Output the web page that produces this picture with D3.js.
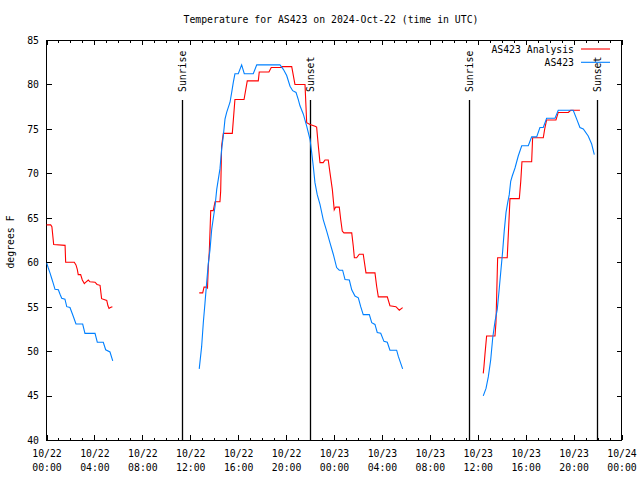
<!DOCTYPE html>
<html><head><meta charset="utf-8">
<script src="https://cdn.jsdelivr.net/npm/d3@7"></script>
<style>
body{margin:0;background:#fff;}
svg{display:block;}
text{font-family:"DejaVu Sans Mono","Liberation Mono",monospace;font-size:9.8px;fill:#000;}
</style></head>
<body><svg id="c" width="640" height="480"></svg>
<script>
// ---- data (hours since 2024-10-22 00:00 UTC, degrees F); null = gap ----
const analysisHours = [0,0.35,0.45,0.6,1.55,1.6,2.32,2.46,2.57,2.65,2.85,2.99,3.16,3.24,3.49,3.63,4.05,4.22,4.47,4.6,5.03,5.13,5.22,5.33,5.5,
  null,
  12.75,13.04,13.15,13.37,13.44,13.51,13.59,13.71,13.92,14.07,14.48,14.54,14.62,14.76,15.51,15.73,16.49,16.76,17.68,17.76,18.57,18.76,19.63,19.66,20.47,20.74,21.58,21.72,22.0,22.42,22.55,22.69,22.83,23.1,23.25,23.52,23.66,23.86,24.02,24.14,24.44,24.56,24.69,24.83,25.48,25.61,25.7,25.89,26.11,26.44,26.67,27.42,27.56,27.7,28.45,28.67,29.17,29.45,29.73,
  null,
  36.46,36.52,36.6,36.74,37.44,37.52,37.58,37.66,38.46,38.58,38.69,39.47,39.59,39.69,40.5,40.58,41.47,41.59,41.75,42.53,42.72,43.56,43.76,44.53];
const analysisTemps = [64.2,64.2,64.0,62.0,61.9,60.0,60.0,59.7,59.2,58.6,58.6,58.0,57.6,57.7,58.0,57.8,57.75,57.5,57.4,55.9,55.7,55.1,54.8,54.9,55.0,
  null,
  56.55,56.55,57.2,57.2,57.1,59.6,61.2,65.8,65.8,66.8,66.8,68.0,73.1,74.5,74.5,78.3,78.3,80.4,80.4,81.4,81.4,81.9,81.9,82.0,82.0,80.0,80.0,75.7,75.5,75.3,75.2,73.1,71.2,71.2,71.5,71.5,70.1,68.2,65.9,66.2,66.2,64.8,63.5,63.3,63.3,61.8,60.5,60.5,60.9,60.9,58.8,58.8,57.3,56.1,56.1,55.1,55.0,54.6,54.9,
  null,
  47.5,48.3,49.6,51.7,51.7,53.2,56.2,60.5,60.5,63.9,67.15,67.15,69.1,71.3,71.3,74.0,74.0,75.0,76.0,76.0,76.85,76.85,77.1,77.1];

const stationHours = [0.02,0.15,0.29,0.43,0.57,0.71,0.99,1.13,1.27,1.54,1.69,1.96,2.1,2.24,2.46,3.02,3.21,4.05,4.24,4.74,4.94,5.3,5.53,
  null,
  12.75,12.95,13.09,13.23,13.37,13.51,13.65,13.79,14.07,14.21,14.48,14.62,14.76,14.9,15.04,15.32,15.46,15.59,15.73,16.01,16.29,16.51,17.26,17.55,19.49,19.77,20.05,20.33,20.55,20.83,21.02,21.16,21.44,21.72,22.0,22.14,22.27,22.41,22.6,22.83,23.1,23.39,23.66,23.94,24.22,24.44,24.72,24.92,25.28,25.48,25.75,26.03,26.23,26.44,26.95,27.15,27.42,27.61,27.9,28.17,28.45,28.67,29.23,29.37,29.73,
  null,
  36.46,36.69,36.88,37.08,37.25,37.44,37.63,37.8,37.94,38.08,38.21,38.36,38.5,38.63,38.75,38.88,39.11,39.38,39.67,40.22,40.5,40.92,41.19,41.47,41.75,42.45,42.72,43.97,44.26,44.53,44.81,45.22,45.51,45.73];
const stationTemps = [59.9,59.35,58.8,58.2,57.6,56.95,56.9,56.4,55.95,55.85,55.0,54.9,54.4,53.9,53.05,53.05,52.0,52.0,51.0,51.0,50.15,49.9,48.9,
  null,
  48.0,50.5,53.2,55.4,57.7,59.9,61.4,63.7,66.3,68.2,70.5,72.7,74.2,76.1,76.85,78.0,79.1,80.2,81.2,81.2,82.2,81.2,81.2,82.2,82.2,81.7,81.0,79.8,79.3,79.1,78.3,77.6,76.65,75.3,73.8,72.3,70.8,68.95,67.6,66.5,64.8,63.5,62.2,60.9,59.4,59.1,59.1,58.05,58.0,56.9,56.2,56.0,55.0,54.1,54.1,53.2,53.0,52.1,52.0,51.1,51.0,50.1,50.1,49.4,48.0,
  null,
  44.96,45.8,47.1,49.0,51.5,53.35,54.7,57.1,59.2,61.25,63.5,65.6,66.7,67.6,69.1,69.7,70.6,71.95,73.1,73.1,74.1,74.1,75.15,75.15,76.2,76.2,77.1,77.1,76.1,75.15,75.0,74.2,73.3,72.1];

const sunEventHours = [11.3, 21.98, 35.3, 45.92];
const sunEventLabels = ["Sunrise","Sunset","Sunrise","Sunset"];
const xMajorTicks = [0,4,8,12,16,20,24,28,32,36,40,44,48];
const yTicks = [40,45,50,55,60,65,70,75,80,85];
const seriesNames = ["AS423 Analysis","AS423"];
const seriesColors = ["#ff0000","#0080ff"];
const titleText = "Temperature for AS423 on 2024-Oct-22 (time in UTC)";
const yLabelText = "degrees F";

// ---- layout ----
const L = 46.5, R = 621.5, T = 40, B = 440;
const svg = d3.select("#c");
const x = d3.scaleLinear().domain([0,48]).range([L,R]);
const y = d3.scaleLinear().domain([40,85]).range([B,T]);

function pad(n){return (n<10?"0":"")+n;}
function dateLab(h){return "10/"+(22+Math.floor(h/24));}
function timeLab(h){return pad(h%24)+":00";}

// minor x ticks (hourly)
const hours = d3.range(0,49);
svg.append("g").attr("transform",`translate(0,${B})`)
  .call(d3.axisBottom(x).tickValues(hours).tickSize(-2.5).tickSizeOuter(0).tickFormat(""))
  .call(g=>g.select(".domain").remove());
svg.append("g").attr("transform",`translate(0,${T})`)
  .call(d3.axisTop(x).tickValues(hours).tickSize(-2.5).tickSizeOuter(0).tickFormat(""))
  .call(g=>g.select(".domain").remove());
// major x ticks
const xb = svg.append("g").attr("transform",`translate(0,${B})`)
  .call(d3.axisBottom(x).tickValues(xMajorTicks).tickSize(-5).tickSizeOuter(0).tickFormat(""));
xb.select(".domain").remove();
xb.selectAll(".tick").append("text")
  .attr("text-anchor","middle").attr("y",17).text(d=>dateLab(d));
xb.selectAll(".tick").append("text")
  .attr("text-anchor","middle").attr("y",31).text(d=>timeLab(d));
svg.append("g").attr("transform",`translate(0,${T})`)
  .call(d3.axisTop(x).tickValues(xMajorTicks).tickSize(-5).tickSizeOuter(0).tickFormat(""))
  .call(g=>g.select(".domain").remove());
// y ticks
const yl = svg.append("g").attr("transform",`translate(${L},0)`)
  .call(d3.axisLeft(y).tickValues(yTicks).tickSize(-5).tickSizeOuter(0).tickPadding(8).tickFormat(d3.format("d")));
yl.select(".domain").remove();
yl.selectAll("text").attr("dy","0.35em").attr("x",-7.5);
svg.append("g").attr("transform",`translate(${R},0)`)
  .call(d3.axisRight(y).tickValues(yTicks).tickSize(-5).tickSizeOuter(0).tickFormat(""))
  .call(g=>g.select(".domain").remove());
svg.selectAll(".tick line").attr("stroke","#000").attr("shape-rendering","crispEdges");
svg.selectAll("g").attr("font-size",null).attr("font-family",null);

// frame
svg.append("rect").attr("x",L).attr("y",T).attr("width",R-L).attr("height",B-T)
  .attr("fill","none").attr("stroke","#000").attr("shape-rendering","crispEdges");

// sunrise / sunset
const ev = svg.append("g");
sunEventHours.forEach((h,i)=>{
  const xx = Math.round(x(h))+0.5;
  ev.append("line").attr("x1",xx).attr("x2",xx).attr("y1",y(40+45*0.85)).attr("y2",B)
    .attr("stroke","#000").attr("stroke-width",1.3);
  ev.append("text").attr("transform",`translate(${xx},${y(40+45*0.87)}) rotate(-90)`)
    .attr("text-anchor","start").attr("dy","0.35em").text(sunEventLabels[i]);
});

// lines
function mk(hs,vs){return hs.map((h,i)=>({h:h,v:vs[i]}));}
const line = d3.line().defined(d=>d.h!==null && d.v!==null).x(d=>x(d.h)).y(d=>y(d.v));
const series = [mk(analysisHours,analysisTemps), mk(stationHours,stationTemps)];
series.forEach((s,i)=>{
  svg.append("path").datum(s).attr("d",line).attr("fill","none")
    .attr("stroke",seriesColors[i]).attr("stroke-width",1.1).attr("stroke-linejoin","miter");
});

// legend
const lg = svg.append("g");
seriesNames.forEach((n,i)=>{
  const yy = 49.5 + i*13.3;
  lg.append("text").attr("x",574).attr("y",yy).attr("dy","0.35em").attr("text-anchor","end").text(n);
  lg.append("line").attr("x1",581).attr("x2",610).attr("y1",yy-0.5).attr("y2",yy-0.5)
    .attr("stroke",seriesColors[i]).attr("stroke-width",1.1);
});

// title & y label
svg.append("text").attr("x",331).attr("y",19.5).attr("dy","0.35em").attr("text-anchor","middle").text(titleText);
svg.append("text").attr("transform","translate(11,242) rotate(-90)").attr("dy","0.35em")
  .attr("text-anchor","middle").text(yLabelText);
</script></body></html>
